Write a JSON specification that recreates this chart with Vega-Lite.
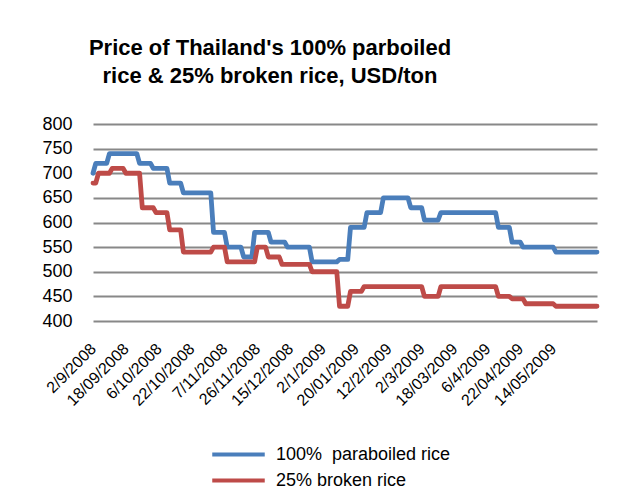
{
  "$schema": "https://vega.github.io/schema/vega-lite/v6.json",
  "width": 504,
  "height": 197,
  "autosize": "none",
  "padding": {"left": 93, "top": 124, "right": 35, "bottom": 179},
  "background": "white",
  "title": {
    "text": ["Price of Thailand's 100% parboiled", "rice & 25% broken rice, USD/ton"],
    "font": "Liberation Sans",
    "fontSize": 22,
    "fontWeight": "bold",
    "color": "black",
    "anchor": "middle",
    "dx": -75,
    "lineHeight": 28,
    "baseline": "bottom",
    "offset": 5
  },
  "data": {
    "values": [
      {"d": "2/9/2008", "p": 700, "b": 680},
      {"d": "3/9/2008", "p": 720, "b": 680},
      {"d": "4/9/2008", "p": 720, "b": 700},
      {"d": "5/9/2008", "p": 720, "b": 700},
      {"d": "8/9/2008", "p": 720, "b": 700},
      {"d": "9/9/2008", "p": 720, "b": 700},
      {"d": "10/9/2008", "p": 740, "b": 700},
      {"d": "11/9/2008", "p": 740, "b": 710},
      {"d": "12/9/2008", "p": 740, "b": 710},
      {"d": "15/09/2008", "p": 740, "b": 710},
      {"d": "16/09/2008", "p": 740, "b": 710},
      {"d": "17/09/2008", "p": 740, "b": 710},
      {"d": "18/09/2008", "p": 740, "b": 700},
      {"d": "19/09/2008", "p": 740, "b": 700},
      {"d": "22/09/2008", "p": 740, "b": 700},
      {"d": "23/09/2008", "p": 740, "b": 700},
      {"d": "24/09/2008", "p": 740, "b": 700},
      {"d": "25/09/2008", "p": 720, "b": 700},
      {"d": "26/09/2008", "p": 720, "b": 630},
      {"d": "29/09/2008", "p": 720, "b": 630},
      {"d": "30/09/2008", "p": 720, "b": 630},
      {"d": "1/10/2008", "p": 720, "b": 630},
      {"d": "2/10/2008", "p": 710, "b": 630},
      {"d": "3/10/2008", "p": 710, "b": 620},
      {"d": "6/10/2008", "p": 710, "b": 620},
      {"d": "7/10/2008", "p": 710, "b": 620},
      {"d": "8/10/2008", "p": 710, "b": 620},
      {"d": "9/10/2008", "p": 710, "b": 620},
      {"d": "10/10/2008", "p": 680, "b": 585},
      {"d": "13/10/2008", "p": 680, "b": 585},
      {"d": "14/10/2008", "p": 680, "b": 585},
      {"d": "15/10/2008", "p": 680, "b": 585},
      {"d": "16/10/2008", "p": 680, "b": 585},
      {"d": "17/10/2008", "p": 660, "b": 540},
      {"d": "20/10/2008", "p": 660, "b": 540},
      {"d": "21/10/2008", "p": 660, "b": 540},
      {"d": "22/10/2008", "p": 660, "b": 540},
      {"d": "23/10/2008", "p": 660, "b": 540},
      {"d": "24/10/2008", "p": 660, "b": 540},
      {"d": "27/10/2008", "p": 660, "b": 540},
      {"d": "28/10/2008", "p": 660, "b": 540},
      {"d": "29/10/2008", "p": 660, "b": 540},
      {"d": "30/10/2008", "p": 660, "b": 540},
      {"d": "31/10/2008", "p": 660, "b": 540},
      {"d": "3/11/2008", "p": 580, "b": 550},
      {"d": "4/11/2008", "p": 580, "b": 550},
      {"d": "5/11/2008", "p": 580, "b": 550},
      {"d": "6/11/2008", "p": 580, "b": 550},
      {"d": "7/11/2008", "p": 580, "b": 550},
      {"d": "10/11/2008", "p": 550, "b": 520},
      {"d": "11/11/2008", "p": 550, "b": 520},
      {"d": "13/11/2008", "p": 550, "b": 520},
      {"d": "14/11/2008", "p": 550, "b": 520},
      {"d": "17/11/2008", "p": 550, "b": 520},
      {"d": "18/11/2008", "p": 550, "b": 520},
      {"d": "19/11/2008", "p": 530, "b": 520},
      {"d": "20/11/2008", "p": 530, "b": 520},
      {"d": "21/11/2008", "p": 530, "b": 520},
      {"d": "24/11/2008", "p": 530, "b": 520},
      {"d": "25/11/2008", "p": 580, "b": 520},
      {"d": "26/11/2008", "p": 580, "b": 550},
      {"d": "27/11/2008", "p": 580, "b": 550},
      {"d": "28/11/2008", "p": 580, "b": 550},
      {"d": "1/12/2008", "p": 580, "b": 550},
      {"d": "2/12/2008", "p": 580, "b": 530},
      {"d": "3/12/2008", "p": 560, "b": 530},
      {"d": "4/12/2008", "p": 560, "b": 530},
      {"d": "8/12/2008", "p": 560, "b": 530},
      {"d": "9/12/2008", "p": 560, "b": 530},
      {"d": "10/12/2008", "p": 560, "b": 515},
      {"d": "11/12/2008", "p": 560, "b": 515},
      {"d": "12/12/2008", "p": 550, "b": 515},
      {"d": "15/12/2008", "p": 550, "b": 515},
      {"d": "16/12/2008", "p": 550, "b": 515},
      {"d": "17/12/2008", "p": 550, "b": 515},
      {"d": "18/12/2008", "p": 550, "b": 515},
      {"d": "19/12/2008", "p": 550, "b": 515},
      {"d": "22/12/2008", "p": 550, "b": 515},
      {"d": "23/12/2008", "p": 550, "b": 515},
      {"d": "24/12/2008", "p": 550, "b": 515},
      {"d": "25/12/2008", "p": 520, "b": 500},
      {"d": "26/12/2008", "p": 520, "b": 500},
      {"d": "29/12/2008", "p": 520, "b": 500},
      {"d": "30/12/2008", "p": 520, "b": 500},
      {"d": "2/1/2009", "p": 520, "b": 500},
      {"d": "5/1/2009", "p": 520, "b": 500},
      {"d": "6/1/2009", "p": 520, "b": 500},
      {"d": "7/1/2009", "p": 520, "b": 500},
      {"d": "8/1/2009", "p": 520, "b": 500},
      {"d": "9/1/2009", "p": 520, "b": 500},
      {"d": "12/1/2009", "p": 525, "b": 430},
      {"d": "13/01/2009", "p": 525, "b": 430},
      {"d": "14/01/2009", "p": 525, "b": 430},
      {"d": "15/01/2009", "p": 525, "b": 430},
      {"d": "16/01/2009", "p": 590, "b": 460},
      {"d": "19/01/2009", "p": 590, "b": 460},
      {"d": "20/01/2009", "p": 590, "b": 460},
      {"d": "21/01/2009", "p": 590, "b": 460},
      {"d": "22/01/2009", "p": 590, "b": 460},
      {"d": "23/01/2009", "p": 590, "b": 470},
      {"d": "29/01/2009", "p": 620, "b": 470},
      {"d": "30/01/2009", "p": 620, "b": 470},
      {"d": "2/2/2009", "p": 620, "b": 470},
      {"d": "3/2/2009", "p": 620, "b": 470},
      {"d": "4/2/2009", "p": 620, "b": 470},
      {"d": "5/2/2009", "p": 620, "b": 470},
      {"d": "6/2/2009", "p": 650, "b": 470},
      {"d": "11/2/2009", "p": 650, "b": 470},
      {"d": "12/2/2009", "p": 650, "b": 470},
      {"d": "13/02/2009", "p": 650, "b": 470},
      {"d": "16/02/2009", "p": 650, "b": 470},
      {"d": "17/02/2009", "p": 650, "b": 470},
      {"d": "18/02/2009", "p": 650, "b": 470},
      {"d": "19/02/2009", "p": 650, "b": 470},
      {"d": "20/02/2009", "p": 650, "b": 470},
      {"d": "23/02/2009", "p": 650, "b": 470},
      {"d": "24/02/2009", "p": 630, "b": 470},
      {"d": "25/02/2009", "p": 630, "b": 470},
      {"d": "26/02/2009", "p": 630, "b": 470},
      {"d": "27/02/2009", "p": 630, "b": 470},
      {"d": "2/3/2009", "p": 630, "b": 470},
      {"d": "3/3/2009", "p": 605, "b": 450},
      {"d": "4/3/2009", "p": 605, "b": 450},
      {"d": "5/3/2009", "p": 605, "b": 450},
      {"d": "6/3/2009", "p": 605, "b": 450},
      {"d": "9/3/2009", "p": 605, "b": 450},
      {"d": "10/3/2009", "p": 605, "b": 450},
      {"d": "11/3/2009", "p": 620, "b": 470},
      {"d": "12/3/2009", "p": 620, "b": 470},
      {"d": "13/03/2009", "p": 620, "b": 470},
      {"d": "16/03/2009", "p": 620, "b": 470},
      {"d": "17/03/2009", "p": 620, "b": 470},
      {"d": "18/03/2009", "p": 620, "b": 470},
      {"d": "19/03/2009", "p": 620, "b": 470},
      {"d": "20/03/2009", "p": 620, "b": 470},
      {"d": "23/03/2009", "p": 620, "b": 470},
      {"d": "24/03/2009", "p": 620, "b": 470},
      {"d": "25/03/2009", "p": 620, "b": 470},
      {"d": "26/03/2009", "p": 620, "b": 470},
      {"d": "30/03/2009", "p": 620, "b": 470},
      {"d": "31/03/2009", "p": 620, "b": 470},
      {"d": "1/4/2009", "p": 620, "b": 470},
      {"d": "2/4/2009", "p": 620, "b": 470},
      {"d": "3/4/2009", "p": 620, "b": 470},
      {"d": "6/4/2009", "p": 620, "b": 470},
      {"d": "7/4/2009", "p": 620, "b": 470},
      {"d": "8/4/2009", "p": 620, "b": 470},
      {"d": "9/4/2009", "p": 620, "b": 470},
      {"d": "10/4/2009", "p": 590, "b": 450},
      {"d": "13/04/2009", "p": 590, "b": 450},
      {"d": "14/04/2009", "p": 590, "b": 450},
      {"d": "15/04/2009", "p": 590, "b": 450},
      {"d": "16/04/2009", "p": 590, "b": 450},
      {"d": "17/04/2009", "p": 560, "b": 445},
      {"d": "20/04/2009", "p": 560, "b": 445},
      {"d": "21/04/2009", "p": 560, "b": 445},
      {"d": "22/04/2009", "p": 560, "b": 445},
      {"d": "23/04/2009", "p": 550, "b": 445},
      {"d": "24/04/2009", "p": 550, "b": 435},
      {"d": "27/04/2009", "p": 550, "b": 435},
      {"d": "28/04/2009", "p": 550, "b": 435},
      {"d": "29/04/2009", "p": 550, "b": 435},
      {"d": "30/04/2009", "p": 550, "b": 435},
      {"d": "4/5/2009", "p": 550, "b": 435},
      {"d": "6/5/2009", "p": 550, "b": 435},
      {"d": "7/5/2009", "p": 550, "b": 435},
      {"d": "12/5/2009", "p": 550, "b": 435},
      {"d": "13/05/2009", "p": 550, "b": 435},
      {"d": "14/05/2009", "p": 550, "b": 435},
      {"d": "15/05/2009", "p": 540, "b": 430},
      {"d": "18/05/2009", "p": 540, "b": 430},
      {"d": "19/05/2009", "p": 540, "b": 430},
      {"d": "20/05/2009", "p": 540, "b": 430},
      {"d": "21/05/2009", "p": 540, "b": 430},
      {"d": "22/05/2009", "p": 540, "b": 430},
      {"d": "25/05/2009", "p": 540, "b": 430},
      {"d": "26/05/2009", "p": 540, "b": 430},
      {"d": "27/05/2009", "p": 540, "b": 430},
      {"d": "28/05/2009", "p": 540, "b": 430},
      {"d": "29/05/2009", "p": 540, "b": 430},
      {"d": "1/6/2009", "p": 540, "b": 430},
      {"d": "2/6/2009", "p": 540, "b": 430},
      {"d": "3/6/2009", "p": 540, "b": 430},
      {"d": "4/6/2009", "p": 540, "b": 430},
      {"d": "5/6/2009", "p": 540, "b": 430}
    ]
  },
  "transform": [
    {"fold": ["p", "b"], "as": ["series", "price"]}
  ],
  "mark": {"type": "line", "strokeWidth": 4.8, "strokeJoin": "round", "strokeCap": "round"},
  "encoding": {
    "x": {
      "field": "d",
      "type": "ordinal",
      "sort": null,
      "scale": {"type": "point", "padding": 0.001},
      "axis": {
        "title": null,
        "values": ["2/9/2008", "18/09/2008", "6/10/2008", "22/10/2008", "7/11/2008", "26/11/2008", "15/12/2008", "2/1/2009", "20/01/2009", "12/2/2009", "2/3/2009", "18/03/2009", "6/4/2009", "22/04/2009", "14/05/2009"],
        "labelAngle": -45,
        "labelAlign": "right",
        "labelBaseline": "middle",
        "labelFont": "Liberation Sans",
        "labelFontSize": 16,
        "labelColor": "black",
        "labelPadding": 25,
        "labelOverlap": false,
        "labelBound": false,
        "labelFlush": false,
        "ticks": false,
        "domain": false,
        "grid": false
      }
    },
    "y": {
      "field": "price",
      "type": "quantitative",
      "scale": {"domain": [400, 800], "nice": false, "zero": false},
      "axis": {
        "title": null,
        "values": [400, 450, 500, 550, 600, 650, 700, 750, 800],
        "labelFont": "Liberation Sans",
        "labelFontSize": 18,
        "labelColor": "black",
        "labelPadding": 21,
        "ticks": false,
        "domain": false,
        "gridColor": "#888888",
        "gridWidth": 1.8,
        "gridOpacity": 1
      }
    },
    "color": {
      "field": "series",
      "type": "nominal",
      "sort": ["p", "b"],
      "scale": {"domain": ["p", "b"], "range": ["#4A7EBB", "#BE4B48"]},
      "legend": {
        "title": null,
        "orient": "none",
        "legendX": 133,
        "legendY": 318,
        "direction": "vertical",
        "symbolType": "M-2.5,0H2.5",
        "symbolSize": 441,
        "symbolStrokeWidth": 4,
        "labelFont": "Liberation Sans",
        "labelFontSize": 18,
        "labelColor": "black",
        "labelOffset": 25,
        "labelLimit": 0,
        "rowPadding": 4,
        "labelExpr": "datum.value == 'p' ? '100%\u00a0 paraboiled rice' : '25% broken rice'"
      }
    }
  },
  "config": {
    "view": {"stroke": null}
  }
}
